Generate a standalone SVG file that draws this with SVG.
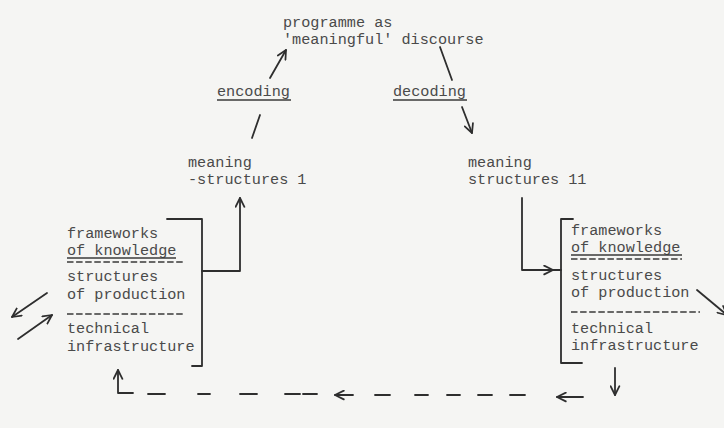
<svg xmlns="http://www.w3.org/2000/svg" width="724" height="428" viewBox="0 0 724 428">
<defs>
<style>
.t{font-family:"Liberation Mono","DejaVu Sans Mono",monospace;font-size:15.2px;fill:#4a4a4a}
.c{fill:none;stroke:#2e2e2e;stroke-width:1.8;stroke-linecap:round;stroke-linejoin:round}
.u{stroke:#3a3a3a;stroke-width:1.6}
.d{stroke:#3a3a3a;stroke-width:1.6;stroke-dasharray:6.5 2.6}
</style>
<marker id="ah" viewBox="0 0 10 10" refX="9" refY="5" markerWidth="11" markerHeight="11" markerUnits="userSpaceOnUse" orient="auto">
<path d="M1,1 L9,5 L1,9" fill="none" stroke="#2e2e2e" stroke-width="1.6" stroke-linecap="round" stroke-linejoin="round"/>
</marker>
</defs>
<rect width="724" height="428" fill="#f5f5f3"/>

<g id="programme">
<text class="t" x="283" y="27">programme as</text>
<text class="t" x="283" y="44">'meaningful' discourse</text>
</g>

<g id="encoding">
<text class="t" x="217" y="96">encoding</text>
<line class="u" x1="217" y1="100" x2="291" y2="100"/>
</g>

<g id="decoding">
<text class="t" x="393" y="96">decoding</text>
<line class="u" x1="393" y1="100" x2="467" y2="100"/>
</g>

<g id="meaning-structures-1">
<text class="t" x="188" y="167">meaning</text>
<text class="t" x="188" y="184">-structures 1</text>
</g>

<g id="meaning-structures-2">
<text class="t" x="468" y="167">meaning</text>
<text class="t" x="468" y="184">structures 11</text>
</g>

<g id="left-box">
<text class="t" x="67" y="238">frameworks</text>
<text class="t" x="67" y="255">of knowledge</text>
<line class="u" x1="67" y1="258" x2="176" y2="258"/>
<line class="d" x1="67" y1="262" x2="185" y2="262"/>
<text class="t" x="67" y="281">structures</text>
<text class="t" x="67" y="299">of production</text>
<line class="d" x1="67" y1="314" x2="185" y2="314"/>
<text class="t" x="67" y="333">technical</text>
<text class="t" x="67" y="351">infrastructure</text>
<path class="c" d="M167,219 H202 V366 H192"/>
</g>

<g id="right-box">
<text class="t" x="571" y="235">frameworks</text>
<text class="t" x="571" y="252">of knowledge</text>
<line class="u" x1="571" y1="255" x2="682" y2="255"/>
<line class="d" x1="571" y1="259" x2="682" y2="259"/>
<text class="t" x="571" y="280">structures</text>
<text class="t" x="571" y="297">of production</text>
<line class="d" x1="571" y1="312" x2="700" y2="312"/>
<text class="t" x="571" y="333">technical</text>
<text class="t" x="571" y="350">infrastructure</text>
<path class="c" d="M573,219 H561 V363 H582"/>
</g>

<g id="connectors">
<path class="c" d="M202,271 H240 V198" marker-end="url(#ah)"/>
<path class="c" d="M252,138 L260,115"/>
<path class="c" d="M270,78 L286,50" marker-end="url(#ah)"/>
<path class="c" d="M440,47 L452,80"/>
<path class="c" d="M462,107 L472,133" marker-end="url(#ah)"/>
<path class="c" d="M522,198 V270 H553" marker-end="url(#ah)"/>
<path class="c" d="M553,270 H561"/>
<path class="c" d="M697,290 L727,315" marker-end="url(#ah)"/>
<path class="c" d="M615,368 V395" marker-end="url(#ah)"/>
<path class="c" d="M583,397 H557" marker-end="url(#ah)"/>
<path class="c" d="M375,395 H390 M415,395 H428 M447,395 H460 M478,395 H492 M510,395 H525"/>
<path class="c" d="M353,395 H335" marker-end="url(#ah)"/>
<path class="c" d="M148,394 H165 M198,394 H210 M240,394 H257 M285,394 H300 M303,394 H317"/>
<path class="c" d="M133,393 H118 V370" marker-end="url(#ah)"/>
<path class="c" d="M47,293 L12,317" marker-end="url(#ah)"/>
<path class="c" d="M18,339 L52,315" marker-end="url(#ah)"/>
</g>
</svg>
